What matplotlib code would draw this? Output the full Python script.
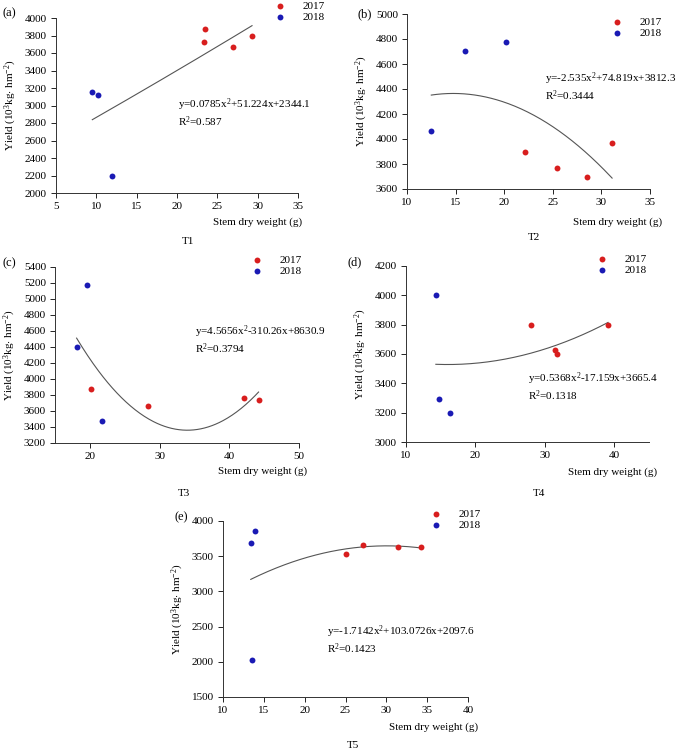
import numpy as np
import matplotlib
matplotlib.use("Agg")
import matplotlib.pyplot as plt

plt.rcParams['font.family'] = ['Liberation Serif', 'DejaVu Serif']
plt.rcParams['mathtext.fontset'] = 'custom'
plt.rcParams['mathtext.rm'] = 'Liberation Serif'
plt.rcParams['mathtext.it'] = 'Liberation Serif:italic'

# stem dry weight (g) and yield, per treatment and year
a17_x = [23.5, 23.4, 26.9, 29.3]
a17_y = [3870, 3730, 3665, 3800]
a18_x = [9.5, 10.2, 11.9]
a18_y = [3155, 3125, 2195]

b17_x = [22.1, 25.4, 28.5, 31.1]
b17_y = [3900, 3765, 3700, 3965]
b18_x = [12.5, 16.0, 20.2]
b18_y = [4065, 4705, 4780]

c17_x = [20.2, 28.3, 42.1, 44.2]
c17_y = [3870, 3665, 3765, 3735]
c18_x = [18.1, 19.6, 21.7]
c18_y = [4395, 5170, 3475]

d17_x = [28.0, 31.4, 31.8, 39.1]
d17_y = [3800, 3630, 3600, 3800]
d18_x = [14.3, 14.8, 16.3]
d18_y = [4005, 3290, 3195]

e17_x = [25.0, 27.1, 31.4, 34.2]
e17_y = [3530, 3665, 3635, 3635]
e18_x = [13.4, 13.9, 13.5]
e18_y = [3685, 3860, 2025]

# trend line coefficients (quadratic)
coef_a = [0.0785, 51.224, 2344.1]
coef_b = [-2.535, 74.819, 3812.3]
coef_c = [4.5656, -310.26, 8630.9]
coef_d = [0.5368, -17.159, 3665.4]
coef_e = [-1.7142, 103.0726, 2097.6]

eq_a = "y=0.0785x$^2$+51.224x+2344.1\nR$^2$=0.587"
eq_b = "y=-2.535x$^2$+74.819x+3812.3\nR$^2$=0.3444"
eq_c = "y=4.5656x$^2$-310.26x+8630.9\nR$^2$=0.3794"
eq_d = "y=0.5368x$^2$-17.159x+3665.4\nR$^2$=0.1318"
eq_e = "y=-1.7142x$^2$+103.0726x+2097.6\nR$^2$=0.1423"

W, H = 677, 750
fig = plt.figure(figsize=(W / 100, H / 100), dpi=100)

red = '#d81e1e'
blue = '#1a1ab4'
fs = 8


def px_axes(l, r, t, b):
    return fig.add_axes([l / W, 1 - b / H, (r - l) / W, (b - t) / H])


def panel(box, x17, y17, x18, y18, coef, eq, eq_pos, xlim, xticks, ylim, yticks,
          leg_px, letter_px, letter, xl_px, tl_px, tname):
    ax = px_axes(*box)
    ax.scatter(x17, y17, s=18, color=red, lw=0, label='2017', zorder=3)
    ax.scatter(x18, y18, s=18, color=blue, lw=0, label='2018', zorder=3)
    allx = np.array(x17 + x18)
    xs = np.linspace(allx.min(), allx.max(), 200)
    ax.plot(xs, np.polyval(coef, xs), color='#555555', lw=0.8)
    ax.set_xlim(*xlim)
    ax.set_ylim(*ylim)
    ax.set_xticks(xticks)
    ax.set_yticks(yticks)
    for s in ['top', 'right']:
        ax.spines[s].set_visible(False)
    for s in ['left', 'bottom']:
        ax.spines[s].set_linewidth(0.7)
        ax.spines[s].set_color('#333333')
    ax.tick_params(direction='out', length=3.5, width=0.6, labelsize=fs, pad=3)
    ax.set_ylabel("Yield (10$^3$kg$\\cdot$ hm$^{-2}$)", fontsize=fs, labelpad=4)
    ax.text(eq_pos[0], eq_pos[1], eq, transform=ax.transAxes, fontsize=fs,
            ha='left', va='center', linespacing=1.1)
    mx, my = leg_px
    ax.legend(loc='upper left', bbox_to_anchor=((mx - 11) / W, 1 - (my - 5) / H),
              bbox_transform=fig.transFigure, frameon=False, fontsize=fs,
              borderpad=0, borderaxespad=0, handlelength=2.0, handletextpad=1.0,
              labelspacing=0.15, scatterpoints=1)
    fig.text(letter_px[0] / W, 1 - letter_px[1] / H, letter, fontsize=fs + 1,
             ha='center', va='center')
    fig.text(xl_px[0] / W, 1 - xl_px[1] / H, "Stem dry weight (g)", fontsize=fs,
             ha='right', va='center')
    fig.text(tl_px[0] / W, 1 - tl_px[1] / H, tname, fontsize=fs,
             ha='center', va='center')
    return ax


panel((56, 298, 18, 193), a17_x, a17_y, a18_x, a18_y, coef_a, eq_a, (0.504, 0.457),
      (5, 35), np.arange(5, 36, 5), (2000, 4000), np.arange(2000, 4001, 200),
      (280, 6), (9, 13), '(a)', (302, 222), (188, 242), 'T1')
panel((407, 650, 14, 189), b17_x, b17_y, b18_x, b18_y, coef_b, eq_b, (0.568, 0.583),
      (10, 35), np.arange(10, 36, 5), (3600, 5000), np.arange(3600, 5001, 200),
      (617, 22), (365, 14), '(b)', (662, 222), (534, 238), 'T2')
panel((55, 299, 267, 443), c17_x, c17_y, c18_x, c18_y, coef_c, eq_c, (0.574, 0.585),
      (15, 50), [20, 30, 40, 50], (3200, 5400), np.arange(3200, 5401, 200),
      (257, 260), (9, 263), '(c)', (307, 471), (184, 493), 'T3')
panel((406, 649, 266, 442), d17_x, d17_y, d18_x, d18_y, coef_d, eq_d, (0.502, 0.3125),
      (10, 45), [10, 20, 30, 40], (3000, 4200), np.arange(3000, 4201, 200),
      (602, 259), (355, 262), '(d)', (657, 472), (539, 493), 'T4')
panel((223, 468, 521, 697), e17_x, e17_y, e18_x, e18_y, coef_e, eq_e, (0.424, 0.324),
      (10, 40), np.arange(10, 41, 5), (1500, 4000), np.arange(1500, 4001, 500),
      (436, 514), (181, 517), '(e)', (478, 727), (353, 745), 'T5')

fig.savefig('out.png', dpi=100)
